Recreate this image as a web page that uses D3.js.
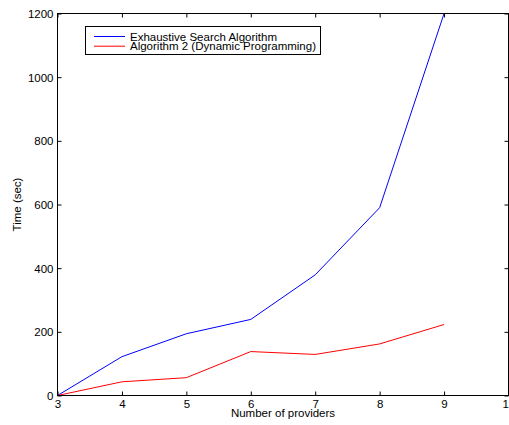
<!DOCTYPE html>
<html lang="en">
<head>
    <meta charset="utf-8">
    <title>Time vs providers</title>
    <script src="https://d3js.org/d3.v7.min.js"></script>
    <style>
        body { margin: 0; background: #fff; }
        text { font-family: "Liberation Sans", Arial, sans-serif; }
    </style>
</head>
<body>
    <svg id="chart" width="509" height="425"></svg>
    <script>
        const providers = [3, 4, 5, 6, 7, 8, 9];
        const exhaustive = [0, 122, 194, 239, 379, 590, 1200];
        const dynamic = [0, 43, 56, 138, 129, 162, 223];
        const xTicks = [3, 4, 5, 6, 7, 8, 9, 10];
        const yTicks = [0, 200, 400, 600, 800, 1000, 1200];
        const seriesNames = ['Exhaustive Search Algorithm', 'Algorithm 2 (Dynamic Programming)'];
        const seriesColors = ['#0000ff', '#ff0000'];

        const svg = d3.select('#chart');
        const plotLeft = 57.5, plotRight = 508.5, plotTop = 13.5, plotBottom = 395.5;
        const fontSize = 11.5;

        let x = d3.scaleLinear().domain([3, 10]).range([plotLeft, plotRight]);
        let y = d3.scaleLinear().domain([0, 1200]).range([plotBottom, plotTop]);

        // lines
        let line = d3.line()
            .x((d, i) => x(providers[i]))
            .y(d => y(d));

        [exhaustive, dynamic].forEach((vals, k) => {
            svg.append('path')
                .datum(vals)
                .attr('fill', 'none')
                .attr('stroke', seriesColors[k])
                .attr('stroke-width', 1)
                .attr('d', line);
        });

        // box
        svg.append('rect')
            .attr('x', plotLeft).attr('y', plotTop)
            .attr('width', plotRight - plotLeft).attr('height', plotBottom - plotTop)
            .attr('fill', 'none').attr('stroke', '#000').attr('stroke-width', 1);

        // axes with inward ticks
        let xAxis = svg.append('g')
            .attr('transform', `translate(0,${plotBottom})`)
            .call(d3.axisBottom(x).tickValues(xTicks).tickFormat(d3.format('d'))
                .tickSizeInner(-4).tickSizeOuter(0).tickPadding(4));
        let yAxis = svg.append('g')
            .attr('transform', `translate(${plotLeft},0)`)
            .call(d3.axisLeft(y).tickValues(yTicks).tickFormat(d3.format('d'))
                .tickSizeInner(-4).tickSizeOuter(0).tickPadding(4));
        let xTop = svg.append('g')
            .attr('transform', `translate(0,${plotTop})`)
            .call(d3.axisTop(x).tickValues(xTicks).tickFormat('')
                .tickSizeInner(-4).tickSizeOuter(0));
        let yRight = svg.append('g')
            .attr('transform', `translate(${plotRight},0)`)
            .call(d3.axisRight(y).tickValues(yTicks).tickFormat('')
                .tickSizeInner(-4).tickSizeOuter(0));

        for (let g of [xAxis, yAxis, xTop, yRight]) {
            g.select('.domain').remove();
            g.selectAll('text')
                .attr('font-size', fontSize)
                .attr('fill', '#000')
                .style('font-family', '"Liberation Sans", Arial, sans-serif');
        }
        yAxis.selectAll('text').attr('dy', '0.35em');

        // axis labels
        svg.append('text')
            .attr('x', (plotLeft + plotRight) / 2)
            .attr('y', 417)
            .attr('text-anchor', 'middle')
            .attr('font-size', fontSize)
            .text('Number of providers');

        svg.append('text')
            .attr('transform', `translate(21,${(plotTop + plotBottom) / 2}) rotate(-90)`)
            .attr('text-anchor', 'middle')
            .attr('font-size', fontSize)
            .text('Time (sec)');

        // legend
        let legend = svg.append('g');
        legend.append('rect')
            .attr('x', 85.5).attr('y', 26.5)
            .attr('width', 235).attr('height', 28)
            .attr('fill', '#fff').attr('stroke', '#000').attr('stroke-width', 1);
        seriesNames.forEach((name, k) => {
            let ly = 36.5 + k * 9.7;
            legend.append('line')
                .attr('x1', 94).attr('x2', 125)
                .attr('y1', ly).attr('y2', ly)
                .attr('stroke', seriesColors[k]).attr('stroke-width', 1);
            legend.append('text')
                .attr('x', 130).attr('y', ly + 4)
                .attr('font-size', fontSize)
                .text(name);
        });
    </script>
</body>
</html>
